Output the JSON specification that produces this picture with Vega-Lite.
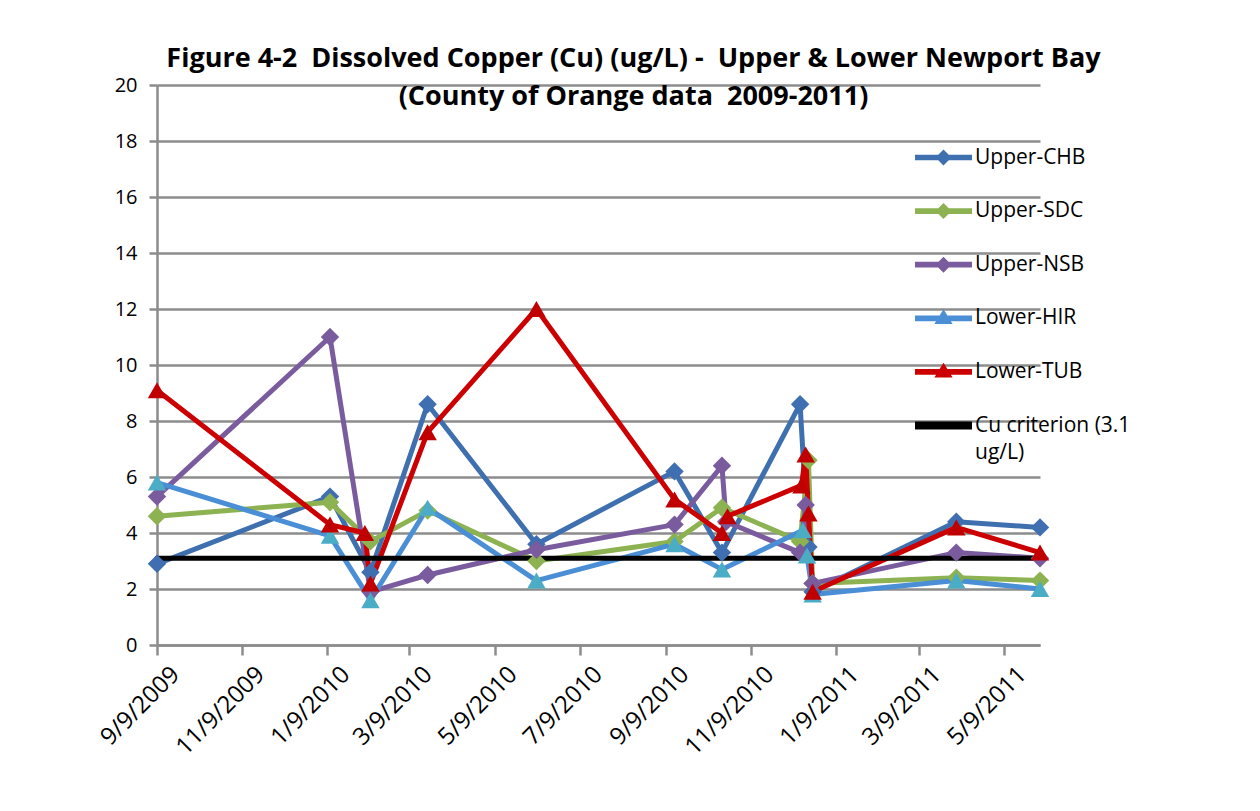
{
  "$schema": "https://vega.github.io/schema/vega-lite/v6.json",
  "width": 883,
  "height": 560,
  "autosize": {"type": "none"},
  "padding": {"left": 157, "top": 85, "right": 220, "bottom": 166},
  "background": "white",
  "title": {
    "text": ["Figure 4-2\u00a0 Dissolved Copper (Cu) (ug/L) -\u00a0 Upper & Lower Newport Bay", "(County of Orange data\u00a0 2009-2011)"],
    "font": "Open Sans", "fontSize": 27, "fontWeight": "bold", "color": "black",
    "anchor": "middle", "lineHeight": 38, "offset": -36, "dx": 35
  },
  "data": {"values": [
    {"s": "Upper-CHB", "d": "2009/09/09", "v": 2.9},
    {"s": "Upper-CHB", "d": "2010/01/11", "v": 5.3},
    {"s": "Upper-CHB", "d": "2010/02/09", "v": 2.6},
    {"s": "Upper-CHB", "d": "2010/03/22", "v": 8.6},
    {"s": "Upper-CHB", "d": "2010/06/08", "v": 3.6},
    {"s": "Upper-CHB", "d": "2010/09/15", "v": 6.2},
    {"s": "Upper-CHB", "d": "2010/10/19", "v": 3.3},
    {"s": "Upper-CHB", "d": "2010/12/14", "v": 8.6},
    {"s": "Upper-CHB", "d": "2010/12/20", "v": 3.5},
    {"s": "Upper-CHB", "d": "2010/12/23", "v": 1.9},
    {"s": "Upper-CHB", "d": "2011/04/05", "v": 4.4},
    {"s": "Upper-CHB", "d": "2011/06/04", "v": 4.2},
    {"s": "Upper-SDC", "d": "2009/09/09", "v": 4.6},
    {"s": "Upper-SDC", "d": "2010/01/11", "v": 5.1},
    {"s": "Upper-SDC", "d": "2010/02/09", "v": 3.7},
    {"s": "Upper-SDC", "d": "2010/03/22", "v": 4.8},
    {"s": "Upper-SDC", "d": "2010/06/08", "v": 3.0},
    {"s": "Upper-SDC", "d": "2010/09/15", "v": 3.7},
    {"s": "Upper-SDC", "d": "2010/10/19", "v": 4.9},
    {"s": "Upper-SDC", "d": "2010/12/14", "v": 3.7},
    {"s": "Upper-SDC", "d": "2010/12/20", "v": 6.6},
    {"s": "Upper-SDC", "d": "2010/12/23", "v": 2.2},
    {"s": "Upper-SDC", "d": "2011/04/05", "v": 2.4},
    {"s": "Upper-SDC", "d": "2011/06/04", "v": 2.3},
    {"s": "Upper-NSB", "d": "2009/09/09", "v": 5.3},
    {"s": "Upper-NSB", "d": "2010/01/11", "v": 11.0},
    {"s": "Upper-NSB", "d": "2010/02/09", "v": 1.9},
    {"s": "Upper-NSB", "d": "2010/03/22", "v": 2.5},
    {"s": "Upper-NSB", "d": "2010/06/08", "v": 3.4},
    {"s": "Upper-NSB", "d": "2010/09/15", "v": 4.3},
    {"s": "Upper-NSB", "d": "2010/10/19", "v": 6.4},
    {"s": "Upper-NSB", "d": "2010/10/22", "v": 4.4},
    {"s": "Upper-NSB", "d": "2010/12/14", "v": 3.3},
    {"s": "Upper-NSB", "d": "2010/12/18", "v": 5.0},
    {"s": "Upper-NSB", "d": "2010/12/23", "v": 2.2},
    {"s": "Upper-NSB", "d": "2011/04/05", "v": 3.3},
    {"s": "Upper-NSB", "d": "2011/06/04", "v": 3.1},
    {"s": "Lower-HIR", "d": "2009/09/09", "v": 5.8},
    {"s": "Lower-HIR", "d": "2010/01/11", "v": 3.9},
    {"s": "Lower-HIR", "d": "2010/02/09", "v": 1.6},
    {"s": "Lower-HIR", "d": "2010/03/22", "v": 4.9},
    {"s": "Lower-HIR", "d": "2010/06/08", "v": 2.3},
    {"s": "Lower-HIR", "d": "2010/09/15", "v": 3.6},
    {"s": "Lower-HIR", "d": "2010/10/19", "v": 2.7},
    {"s": "Lower-HIR", "d": "2010/12/16", "v": 4.1},
    {"s": "Lower-HIR", "d": "2010/12/19", "v": 3.2},
    {"s": "Lower-HIR", "d": "2010/12/23", "v": 1.8},
    {"s": "Lower-HIR", "d": "2011/04/05", "v": 2.3},
    {"s": "Lower-HIR", "d": "2011/06/04", "v": 2.0},
    {"s": "Lower-TUB", "d": "2009/09/09", "v": 9.1},
    {"s": "Lower-TUB", "d": "2010/01/11", "v": 4.3},
    {"s": "Lower-TUB", "d": "2010/02/05", "v": 4.0},
    {"s": "Lower-TUB", "d": "2010/02/09", "v": 2.2},
    {"s": "Lower-TUB", "d": "2010/03/22", "v": 7.6},
    {"s": "Lower-TUB", "d": "2010/06/08", "v": 12.0},
    {"s": "Lower-TUB", "d": "2010/09/15", "v": 5.2},
    {"s": "Lower-TUB", "d": "2010/10/19", "v": 4.0},
    {"s": "Lower-TUB", "d": "2010/10/23", "v": 4.6},
    {"s": "Lower-TUB", "d": "2010/12/15", "v": 5.7},
    {"s": "Lower-TUB", "d": "2010/12/18", "v": 6.8},
    {"s": "Lower-TUB", "d": "2010/12/20", "v": 4.7},
    {"s": "Lower-TUB", "d": "2010/12/23", "v": 1.9},
    {"s": "Lower-TUB", "d": "2011/04/05", "v": 4.2},
    {"s": "Lower-TUB", "d": "2011/06/04", "v": 3.3},
    {"s": "Cu criterion (3.1 ug/L)", "d": "2009/09/09", "v": 3.1},
    {"s": "Cu criterion (3.1 ug/L)", "d": "2011/06/04", "v": 3.1}
  ]},
  "layer": [
    {
      "mark": {"type": "line", "strokeWidth": 5, "strokeCap": "round", "strokeJoin": "round"},
      "encoding": {
        "x": {
          "field": "d", "type": "temporal",
          "scale": {"domain": [{"year": 2009, "month": 9, "date": 9}, {"year": 2011, "month": 6, "date": 4}], "nice": false},
          "axis": {
            "title": null, "grid": false, "format": "%-m/%-d/%Y", "labelAngle": -45,
            "values": [
              {"year": 2009, "month": 9, "date": 9}, {"year": 2009, "month": 11, "date": 9},
              {"year": 2010, "month": 1, "date": 9}, {"year": 2010, "month": 3, "date": 9},
              {"year": 2010, "month": 5, "date": 9}, {"year": 2010, "month": 7, "date": 9},
              {"year": 2010, "month": 9, "date": 9}, {"year": 2010, "month": 11, "date": 9},
              {"year": 2011, "month": 1, "date": 9}, {"year": 2011, "month": 3, "date": 9},
              {"year": 2011, "month": 5, "date": 9}
            ],
            "labelOverlap": false, "labelFlush": false,
            "tickSize": 10, "labelPadding": 7, "labelOffset": 10, "labelFontSize": 24
          }
        },
        "y": {
          "field": "v", "type": "quantitative",
          "scale": {"domain": [0, 20], "nice": false},
          "axis": {"title": null, "grid": true, "values": [0, 2, 4, 6, 8, 10, 12, 14, 16, 18, 20], "tickSize": 8, "labelPadding": 12, "labelFontSize": 20}
        },
        "color": {
          "field": "s", "type": "nominal",
          "scale": {
            "domain": ["Upper-CHB", "Upper-SDC", "Upper-NSB", "Lower-HIR", "Lower-TUB", "Cu criterion (3.1 ug/L)"],
            "range": ["#3E6FAE", "#8DB251", "#7A5C9E", "#4A8ED6", "#CC0000", "#000000"]
          },
          "legend": {
            "title": null, "orient": "none", "legendX": 758, "legendY": 44, "padding": 0,
            "symbolSize": 3249, "rowPadding": 14.6, "labelOffset": 3,
            "labelFont": "Open Sans", "labelFontSize": 21, "labelColor": "black", "labelLimit": 300,
            "labelExpr": "datum.label == 'Cu criterion (3.1 ug/L)' ? ['Cu criterion (3.1', 'ug/L)'] : datum.label",
            "encode": {
              "labels": {"update": {"lineHeight": {"value": 27}}},
              "symbols": {
                "update": {
                  "shape": {"signal": "(datum.value == 'Lower-HIR' || datum.value == 'Lower-TUB') ? 'M0,-0.32L0.32,0.2L-0.32,0.2Z M-1,-0.1L1,-0.1L1,0.1L-1,0.1Z' : (datum.value == 'Cu criterion (3.1 ug/L)' ? 'M-1,-0.14L1,-0.14L1,0.14L-1,0.14Z' : 'M-1,-0.1L1,-0.1L1,0.1L-1,0.1Z M0,-0.28L0.28,0L0,0.28L-0.28,0Z')"},
                  "fill": {"signal": "datum.value == 'Upper-CHB' ? '#3E6FAE' : datum.value == 'Upper-SDC' ? '#8DB251' : datum.value == 'Upper-NSB' ? '#7A5C9E' : datum.value == 'Lower-HIR' ? '#4A8ED6' : datum.value == 'Lower-TUB' ? '#CC0000' : '#000000'"},
                  "strokeWidth": {"value": 0},
                  "opacity": {"value": 1}
                }
              }
            }
          }
        }
      }
    },
    {
      "transform": [{"filter": "datum.s !== 'Cu criterion (3.1 ug/L)'"}],
      "mark": {"type": "point", "filled": true, "opacity": 1, "strokeWidth": 0},
      "encoding": {
        "x": {"field": "d", "type": "temporal"},
        "y": {"field": "v", "type": "quantitative"},
        "color": {
          "field": "s", "type": "nominal",
          "scale": {
            "domain": ["Upper-CHB", "Upper-SDC", "Upper-NSB", "Lower-HIR", "Lower-TUB"],
            "range": ["#3F6FB0", "#8DB251", "#7A5C9E", "#4BACC6", "#C00000"]
          },
          "legend": null
        },
        "shape": {
          "field": "s", "type": "nominal",
          "scale": {
            "domain": ["Upper-CHB", "Upper-SDC", "Upper-NSB", "Lower-HIR", "Lower-TUB"],
            "range": ["diamond", "diamond", "diamond", "triangle-up", "triangle-up"]
          },
          "legend": null
        },
        "size": {"value": 340}
      }
    }
  ],
  "resolve": {"scale": {"color": "independent", "shape": "independent"}},
  "config": {
    "view": {"stroke": null},
    "axis": {
      "domainColor": "#8c8c8c", "domainWidth": 2.5,
      "tickColor": "#8c8c8c", "tickWidth": 2.5,
      "gridColor": "#8c8c8c", "gridWidth": 2.5,
      "labelFont": "Open Sans", "labelFontSize": 18, "labelColor": "black"
    }
  }
}
